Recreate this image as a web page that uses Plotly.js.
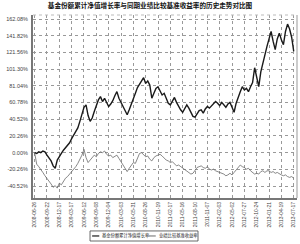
<!DOCTYPE html>
<html><head><meta charset="utf-8">
<script src="https://cdn.plot.ly/plotly-3.0.1.min.js"></script>
<style>html,body{margin:0;padding:0;background:#fff}#c{width:300px;height:244px}</style>
</head><body><div id="c"></div>
<script>
const titleText = "基金份额累计净值增长率与同期业绩比较基准收益率的历史走势对比图";
const fundName = "基金份额累计净值增长率";
const benchName = "业绩比较基准收益率";
const tickLabels = ["2008-06-26","2008-09-22","2008-12-17","2009-03-17","2009-06-12","2009-09-08","2009-12-04","2010-03-03","2010-05-31","2010-08-26","2010-11-19","2011-02-17","2011-05-16","2011-08-10","2011-11-07","2012-02-03","2012-05-02","2012-07-27","2012-10-24","2013-01-21","2013-04-19","2013-07-17"];
const yTickValues = [-40.52,-20.26,0,20.26,40.52,60.78,81.04,101.30,121.56,141.82,162.08];
const yTickLabels = ["-40.52%","-20.26%","0.00%","20.26%","40.52%","60.78%","81.04%","101.30%","121.56%","141.82%","162.08%"];
const fund = [0,-1,1,0,2,1,-3,-6,-10,-16,-19,-9,-4,-1,3,6,10,12,17,21,26,30,38,46,55,58,45,38,42,50,57,64,68,62,66,60,56,59,63,69,74,66,61,57,50,46,52,58,64,72,79,83,88,91,84,87,82,66,72,78,80,75,70,72,66,60,58,63,67,61,56,52,49,54,58,54,48,44,43,47,51,52,48,53,56,54,57,59,62,60,57,61,58,55,59,61,55,49,60,68,74,80,76,78,74,80,85,103,92,80,98,109,122,129,138,147,135,125,138,145,137,131,147,156,150,140,123];
const bench = [0,-14,-17,-20,-24,-28,-31,-34,-38,-42,-40,-43,-37,-39,-34,-31,-29,-26,-23,-21,-17,-13,-8,-3,4,-6,-12,-9,-6,-3,-5,-1,1,0,2,-2,-4,-3,-6,-4,-3,-7,-11,-16,-19,-23,-19,-15,-12,-13,-6,-1,0,-3,-5,-4,-8,-10,-6,-4,-3,-2,-4,-7,-9,-10,-12,-11,-14,-16,-15,-17,-18,-21,-22,-24,-26,-25,-21,-18,-17,-16,-18,-19,-17,-20,-21,-20,-22,-23,-24,-25,-26,-28,-27,-25,-27,-24,-21,-17,-15,-17,-18,-20,-19,-22,-24,-26,-25,-26,-23,-22,-24,-22,-22,-24,-23,-25,-24,-26,-27,-28,-27,-29,-30,-29,-31];
const pointsPerTick = 6;

const tickVals = tickLabels.map((_, i) => i * pointsPerTick);
const tf = "Arial, Liberation Sans, sans-serif";
const data = [
  {y: bench, type: "scatter", mode: "lines", name: benchName, line: {color: "#6a6a6a", width: 0.8}, hoverinfo: "skip"},
  {y: fund, type: "scatter", mode: "lines", name: fundName, line: {color: "#1a1a1a", width: 1.4}, hoverinfo: "skip"}
];
const layout = {
  width: 300, height: 244,
  margin: {l: 33, r: 3, t: 15, b: 46, pad: 0},
  paper_bgcolor: "#fff", plot_bgcolor: "#fff",
  showlegend: false,
  title: {text: "<b>" + titleText + "</b>", x: 0.5, xanchor: "center", y: 0.985, yanchor: "top", yref: "container",
          font: {family: "Noto Sans CJK SC, sans-serif", size: 6.6, color: "#111"}},
  xaxis: {range: [-0.8, 127.6], tickvals: tickVals, ticktext: tickLabels, tickangle: -90,
          tickfont: {family: tf, size: 5, color: "#444"}, showgrid: true, gridcolor: "#999", griddash: "dot", gridwidth: 1,
          zeroline: false, showline: true, linecolor: "#777", linewidth: 2, ticks: "", mirror: false},
  yaxis: {range: [-55, 167], tickvals: yTickValues, ticktext: yTickLabels,
          tickfont: {family: tf, size: 5.5, color: "#444"}, showgrid: true, gridcolor: "#999", griddash: "dot", gridwidth: 1,
          zeroline: false, showline: true, linecolor: "#777", linewidth: 2, ticks: "", ticklabelstandoff: 2},
  shapes: [
    {type: "line", xref: "paper", yref: "paper", x0: 1, x1: 1, y0: 0, y1: 1, line: {color: "#999", width: 1}},
    {type: "line", xref: "paper", yref: "paper", x0: 0, x1: 1, y0: 1, y1: 1, line: {color: "#bbb", width: 1, dash: "dot"}},
    {type: "rect", xref: "paper", yref: "paper", x0: 0.216, x1: 0.625, y0: -0.235, y1: -0.18, line: {color: "#444", width: 0.8}, fillcolor: "#fff"},
    {type: "line", xref: "paper", yref: "paper", x0: 0.224, x1: 0.251, y0: -0.2075, y1: -0.2075, line: {color: "#1a1a1a", width: 1.2}},
    {type: "line", xref: "paper", yref: "paper", x0: 0.438, x1: 0.465, y0: -0.2075, y1: -0.2075, line: {color: "#6a6a6a", width: 1}}
  ],
  annotations: [
    {text: fundName, xref: "paper", yref: "paper", x: 0.254, y: -0.2075, xanchor: "left", yanchor: "middle", showarrow: false,
     font: {family: "Noto Sans CJK SC, sans-serif", size: 4.3, color: "#222"}},
    {text: benchName, xref: "paper", yref: "paper", x: 0.468, y: -0.2075, xanchor: "left", yanchor: "middle", showarrow: false,
     font: {family: "Noto Sans CJK SC, sans-serif", size: 4.3, color: "#222"}}
  ]
};
Plotly.newPlot("c", data, layout, {staticPlot: true, displayModeBar: false});
</script></body></html>
